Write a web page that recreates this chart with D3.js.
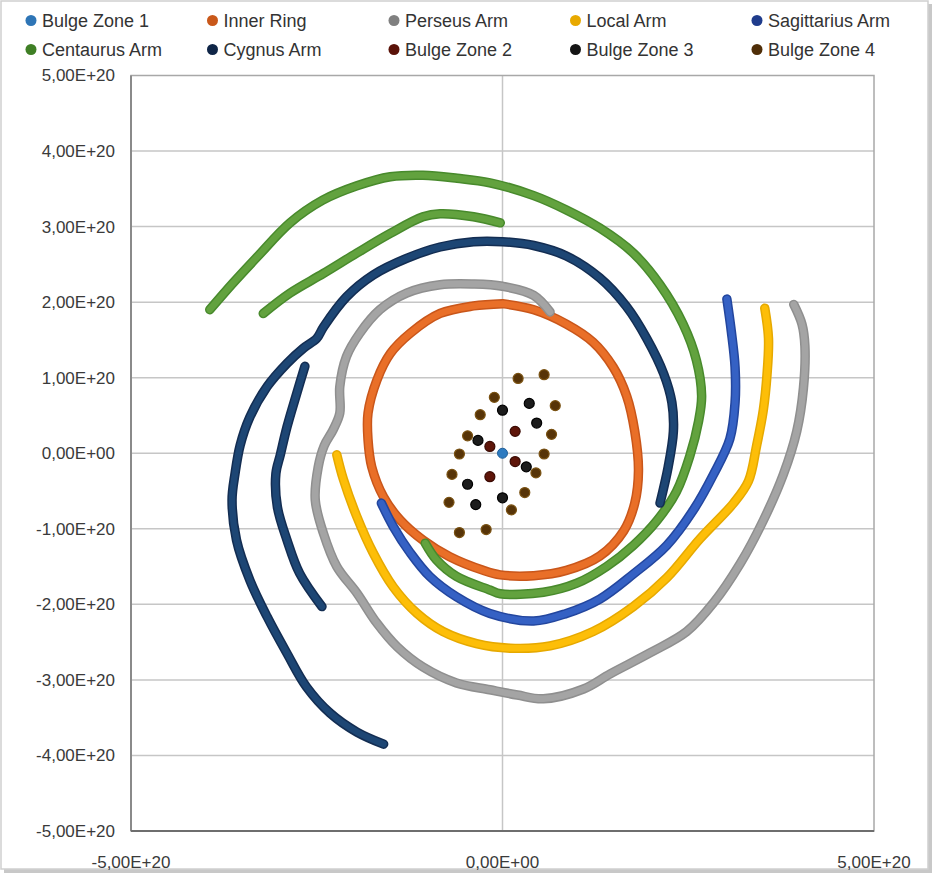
<!DOCTYPE html>
<html><head><meta charset="utf-8">
<script src="https://cdn.jsdelivr.net/npm/d3@7"></script>
<style>
body{margin:0;background:#fff}
svg text{font-family:"Liberation Sans",Arial,sans-serif}
</style>
</head><body>
<svg id="chart" width="933" height="874"></svg>
<script>
const UNIT = 1e20;
const xTickValues = [-5, 0, 5];
const xTickLabels = ["-5,00E+20", "0,00E+00", "5,00E+20"];
const yTickValues = [5, 4, 3, 2, 1, 0, -1, -2, -3, -4, -5];
const yTickLabels = ["5,00E+20","4,00E+20","3,00E+20","2,00E+20","1,00E+20","0,00E+00","-1,00E+20","-2,00E+20","-3,00E+20","-4,00E+20","-5,00E+20"];

const seriesNames = ["Bulge Zone 1","Inner Ring","Perseus Arm","Local Arm","Sagittarius Arm",
                     "Centaurus Arm","Cygnus Arm","Bulge Zone 2","Bulge Zone 3","Bulge Zone 4"];
const legendColors = ["#2E75B6","#C9581A","#808080","#E8A900","#1F3C8C",
                      "#3F7F25","#0F2547","#5A1208","#151515","#4F2E08"];

// values in units of 1E20
const bulgeZone1 = [[0, 0]];
const innerRing = [[0.00,1.98],[0.42,1.90],[0.86,1.71],[1.22,1.47],[1.49,1.14],[1.67,0.76],[1.78,0.29],
  [1.83,-0.23],[1.78,-0.66],[1.63,-1.03],[1.31,-1.36],[0.86,-1.55],[0.42,-1.62],[-0.03,-1.61],[-0.26,-1.55],
  [-0.71,-1.37],[-1.07,-1.15],[-1.38,-0.88],[-1.60,-0.58],[-1.76,-0.18],[-1.81,0.18],[-1.81,0.53],
  [-1.69,0.97],[-1.51,1.32],[-1.24,1.59],[-0.84,1.85],[-0.39,1.95],[0.00,1.98]];
const perseusArm = [[0.64,1.87],[0.42,2.09],[0.00,2.21],[-0.39,2.24],[-0.84,2.23],[-1.29,2.12],[-1.65,1.90],
  [-1.92,1.59],[-2.10,1.28],[-2.19,0.88],[-2.19,0.53],[-2.28,0.31],[-2.40,0.10],[-2.48,-0.18],[-2.52,-0.62],
  [-2.41,-1.06],[-2.23,-1.50],[-1.96,-1.85],[-1.69,-2.25],[-1.42,-2.56],[-1.07,-2.83],[-0.62,-3.04],
  [-0.17,-3.13],[0.20,-3.20],[0.55,-3.25],[1.09,-3.12],[1.45,-2.92],[1.99,-2.64],[2.48,-2.36],[2.84,-1.98],
  [3.20,-1.46],[3.51,-0.89],[3.78,-0.28],[3.96,0.29],[4.05,0.86],[4.07,1.42],[4.03,1.71],[3.92,1.97]];
const localArm = [[-2.23,-0.02],[-2.14,-0.35],[-1.96,-0.84],[-1.74,-1.32],[-1.47,-1.77],[-1.15,-2.12],
  [-0.80,-2.36],[-0.35,-2.52],[0.10,-2.58],[0.64,-2.55],[1.22,-2.36],[1.76,-2.03],[2.21,-1.65],[2.66,-1.13],
  [3.11,-0.66],[3.31,-0.37],[3.42,0.10],[3.51,0.57],[3.56,1.04],[3.58,1.52],[3.53,1.92]];
const sagittariusArm = [[-1.63,-0.66],[-1.47,-0.97],[-1.24,-1.32],[-0.98,-1.63],[-0.62,-1.90],[-0.17,-2.12],
  [0.42,-2.22],[0.86,-2.12],[1.31,-1.93],[1.76,-1.60],[2.21,-1.22],[2.57,-0.75],[2.84,-0.28],[3.06,0.19],
  [3.13,0.67],[3.13,1.14],[3.08,1.61],[3.02,2.04]];
const centaurusArmOuter = [[-3.94,1.90],[-3.63,2.25],[-3.30,2.60],[-2.86,3.05],[-2.42,3.35],[-1.96,3.54],
  [-1.51,3.66],[-1.07,3.68],[-0.61,3.64],[-0.17,3.58],[0.42,3.41],[0.86,3.22],[1.31,2.98],[1.76,2.65],
  [2.12,2.23],[2.43,1.71],[2.61,1.23],[2.68,0.76],[2.64,0.43],[2.52,-0.04],[2.34,-0.51],[2.08,-0.89],
  [1.76,-1.22],[1.40,-1.50],[1.00,-1.72],[0.55,-1.84],[-0.03,-1.86],[-0.17,-1.81],[-0.62,-1.63],
  [-0.89,-1.41],[-1.04,-1.19]];
const centaurusArmInner = [[-3.22,1.85],[-2.86,2.12],[-2.41,2.38],[-1.96,2.65],[-1.51,2.91],[-1.07,3.13],
  [-0.84,3.17],[-0.39,3.13],[-0.03,3.05]];
const cygnusArmOuter = [[2.12,-0.66],[2.23,-0.18],[2.30,0.29],[2.28,0.67],[2.17,1.05],[1.94,1.52],[1.67,1.94],
  [1.31,2.32],[0.86,2.61],[0.42,2.75],[0.00,2.80],[-0.39,2.80],[-0.84,2.73],[-1.29,2.58],[-1.74,2.36],
  [-2.10,2.07],[-2.41,1.67],[-2.50,1.52],[-2.68,1.39],[-2.90,1.19],[-3.17,0.88],[-3.40,0.48],[-3.53,0.11],
  [-3.60,-0.27],[-3.64,-0.62],[-3.58,-1.15],[-3.40,-1.68],[-3.17,-2.16],[-2.90,-2.65],[-2.64,-3.09],
  [-2.32,-3.44],[-1.96,-3.69],[-1.60,-3.85]];
const cygnusArmInner = [[-2.66,1.15],[-2.77,0.79],[-2.90,0.35],[-2.99,-0.02],[-3.05,-0.27],[-3.03,-0.71],
  [-2.90,-1.15],[-2.73,-1.59],[-2.43,-2.03]];
const bulgeZone2 = [[0.17,0.29],[-0.17,0.09],[0.17,-0.11],[-0.17,-0.31]];
const bulgeZone3 = [[0,0.57],[0.36,0.66],[0.46,0.40],[-0.33,0.17],[0.32,-0.18],[-0.47,-0.41],[-0.36,-0.68],[0,-0.59]];
const bulgeZone4 = [[0.21,0.99],[0.56,1.04],[-0.11,0.74],[0.71,0.63],[-0.30,0.51],[0.66,0.25],[-0.47,0.23],
  [-0.58,-0.01],[0.56,-0.01],[-0.68,-0.28],[0.45,-0.26],[0.30,-0.52],[-0.72,-0.65],[0.12,-0.75],
  [-0.58,-1.05],[-0.22,-1.01]];

const lineSeries = [
  {name:"Inner Ring", segs:[innerRing], outer:"#C9561A", inner:"#E96F28"},
  {name:"Perseus Arm", segs:[perseusArm], outer:"#8F8F8F", inner:"#A4A4A4"},
  {name:"Local Arm", segs:[localArm], outer:"#E6A900", inner:"#FDBE08"},
  {name:"Sagittarius Arm", segs:[sagittariusArm], outer:"#23469E", inner:"#3561C4"},
  {name:"Centaurus Arm", segs:[centaurusArmOuter, centaurusArmInner], outer:"#488A2C", inner:"#62A23E"},
  {name:"Cygnus Arm", segs:[cygnusArmOuter, cygnusArmInner], outer:"#132D52", inner:"#1D4674"}
];
const pointSeries = [
  {name:"Bulge Zone 2", pts:bulgeZone2, fill:"#5E1509", stroke:"#3A0A03"},
  {name:"Bulge Zone 3", pts:bulgeZone3, fill:"#1C1C1C", stroke:"#000"},
  {name:"Bulge Zone 4", pts:bulgeZone4, fill:"#573408", stroke:"#7A5212"}
];

const svg = d3.select("#chart");
const x = d3.scaleLinear().domain([-5*UNIT, 5*UNIT]).range([131, 874]);
const y = d3.scaleLinear().domain([-5*UNIT, 5*UNIT]).range([831, 75.5]);

// outer frame with shadow
svg.append("rect").attr("x",4).attr("y",4).attr("width",928).attr("height",869).attr("fill","#c8c8c8");
svg.append("rect").attr("x",1).attr("y",1).attr("width",927).attr("height",868)
  .attr("fill","#fff").attr("stroke","#cfcfcf").attr("stroke-width",1.5);

// gridlines
svg.append("g").selectAll("line").data(yTickValues.filter(v => Math.abs(v) < 5)).join("line")
  .attr("x1", x(-5*UNIT)).attr("x2", x(5*UNIT))
  .attr("y1", d => y(d*UNIT)).attr("y2", d => y(d*UNIT))
  .attr("stroke", "#c6c6c6").attr("stroke-width", 1.5);
svg.append("line").attr("x1", x(0)).attr("x2", x(0)).attr("y1", y(5*UNIT)).attr("y2", y(-5*UNIT))
  .attr("stroke", "#c6c6c6").attr("stroke-width", 1.5);

// plot border
svg.append("rect").attr("x", x(-5*UNIT)).attr("y", y(5*UNIT))
  .attr("width", x(5*UNIT)-x(-5*UNIT)).attr("height", y(-5*UNIT)-y(5*UNIT))
  .attr("fill","none").attr("stroke","#a8a8a8").attr("stroke-width",1.5);
// axis lines
svg.append("line").attr("x1", x(-5*UNIT)).attr("x2", x(-5*UNIT)).attr("y1", y(5*UNIT)).attr("y2", y(-5*UNIT))
  .attr("stroke","#8a8a8a").attr("stroke-width",2);
svg.append("line").attr("x1", x(-5*UNIT)).attr("x2", x(5*UNIT)).attr("y1", y(-5*UNIT)).attr("y2", y(-5*UNIT))
  .attr("stroke","#6e6e6e").attr("stroke-width",2.2);

// tick labels
svg.append("g").selectAll("text").data(yTickValues).join("text")
  .attr("x", 115).attr("y", d => y(d*UNIT)).attr("dy","0.35em")
  .attr("text-anchor","end").attr("font-size",17).attr("fill","#3a3a3a")
  .text((d,i) => yTickLabels[i]);
svg.append("g").selectAll("text").data(xTickValues).join("text")
  .attr("x", d => x(d*UNIT)).attr("y", 862).attr("dy","0.35em")
  .attr("text-anchor","middle").attr("font-size",17).attr("fill","#3a3a3a")
  .text((d,i) => xTickLabels[i]);

// Bulge Zone 1
const plot = svg.append("g");
plot.selectAll("circle.b1").data(bulgeZone1).join("circle").attr("class","b1")
  .attr("cx", d => x(d[0]*UNIT)).attr("cy", d => y(d[1]*UNIT)).attr("r",5)
  .attr("fill","#2E7BC0").attr("stroke","#1F5F99").attr("stroke-width",1);

// lines
const lineGen = d3.line().x(d => x(d[0]*UNIT)).y(d => y(d[1]*UNIT)).curve(d3.curveCatmullRom.alpha(0.5));
lineSeries.forEach(s => {
  const g = plot.append("g");
  s.segs.forEach(seg => {
    g.append("path").attr("d", lineGen(seg)).attr("fill","none").attr("stroke", s.outer)
      .attr("stroke-width", 9.5).attr("stroke-linecap","round").attr("stroke-linejoin","round");
    g.append("path").attr("d", lineGen(seg)).attr("fill","none").attr("stroke", s.inner)
      .attr("stroke-width", 6.5).attr("stroke-linecap","round").attr("stroke-linejoin","round");
  });
});

// bulge points
pointSeries.forEach(s => {
  plot.append("g").selectAll("circle").data(s.pts).join("circle")
    .attr("cx", d => x(d[0]*UNIT)).attr("cy", d => y(d[1]*UNIT)).attr("r", 5)
    .attr("fill", s.fill).attr("stroke", s.stroke).attr("stroke-width", 1.2);
});

// legend
const leg = svg.append("g");
seriesNames.forEach((n, i) => {
  const col = i % 5, row = Math.floor(i / 5);
  const cx = 31 + col * 181.5, cy = 20.5 + row * 29;
  leg.append("circle").attr("cx", cx).attr("cy", cy).attr("r", 5.5).attr("fill", legendColors[i]);
  leg.append("text").attr("x", cx + 11).attr("y", cy).attr("dy","0.36em")
    .attr("font-size", 18).attr("fill","#333").text(n);
});
</script>
</body></html>
